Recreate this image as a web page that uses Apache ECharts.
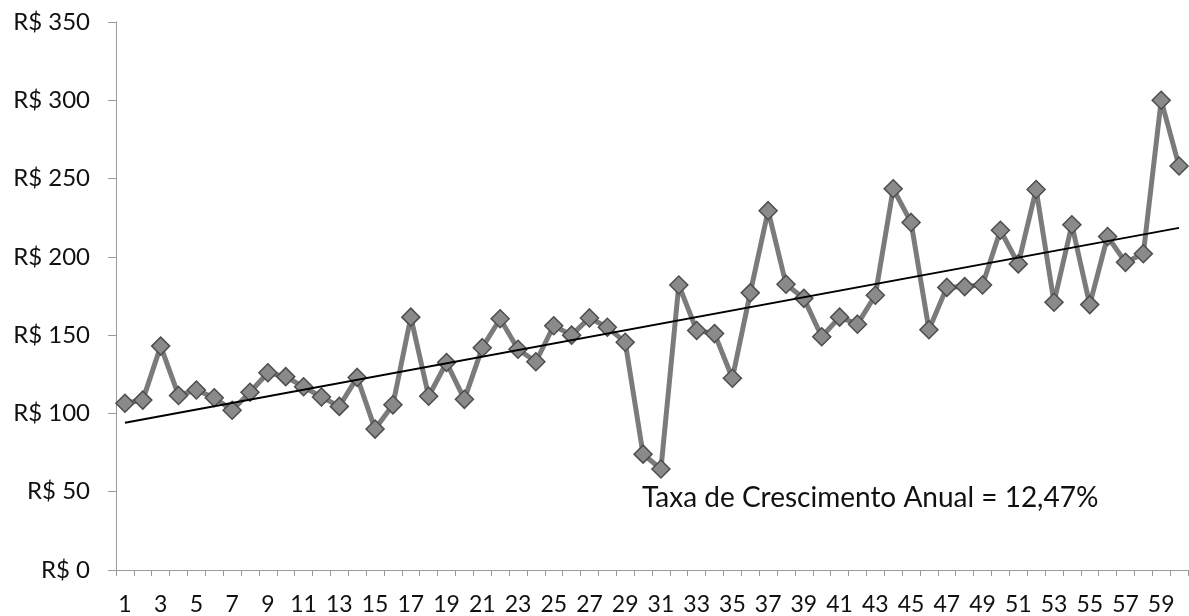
<!DOCTYPE html>
<html>
<head>
<meta charset="utf-8">
<script src="https://cdn.jsdelivr.net/npm/echarts@6/dist/echarts.min.js"></script>
<style>
  html, body { margin: 0; padding: 0; background: #fff; }
  #chart { width: 1189px; height: 616px; }
</style>
</head>
<body>
<div id="chart"></div>
<script>
// periodos 1..60
var periodos = [];
for (var i = 1; i <= 60; i++) periodos.push(String(i));

// valores (R$)
var valores = [
  106.5, 108.5, 143, 111.5, 115, 110, 102, 113.5, 126, 123.5,
  117, 110.5, 104.5, 123, 90, 105.5, 161.5, 111, 132.5, 109,
  142, 160.5, 141, 133, 156, 150, 161, 155, 145.5, 74,
  64.5, 182, 153, 151, 122.5, 177, 229.5, 182.5, 173.5, 149,
  161.5, 157, 175.5, 243.5, 222, 153.5, 180.5, 181, 182, 217,
  195.5, 243, 171, 220.5, 169.5, 213, 196.5, 202, 300, 258
];

// linha de tendência (linear): valor no primeiro e no último período
var tendencia = [['1', 94], ['60', 218.5]];

var eixoY = [0, 50, 100, 150, 200, 250, 300, 350];
var anotacao = 'Taxa de Crescimento Anual = 12,47%';

var chart = echarts.init(document.getElementById('chart'), null, { renderer: 'canvas' });

var fonte = 'Lato, "Open Sans", sans-serif';

var option = {
  backgroundColor: '#ffffff',
  animation: false,
  title: {
    text: anotacao,
    left: 642,
    top: 484,
    padding: 0,
    textStyle: { fontFamily: fonte, fontSize: 28, fontWeight: 'normal', color: '#111' }
  },
  grid: {
    left: 116,
    right: 1,
    top: 22,
    bottom: 46,
    containLabel: false
  },
  xAxis: {
    type: 'category',
    data: periodos,
    boundaryGap: true,
    axisLine: { lineStyle: { color: '#9a9a9a', width: 1 } },
    axisTick: { show: true, interval: 0, length: 6, lineStyle: { color: '#9a9a9a' } },
    axisLabel: {
      interval: 1,
      margin: 23,
      fontFamily: fonte,
      fontSize: 23,
      color: '#111'
    },
    splitLine: { show: false }
  },
  yAxis: {
    type: 'value',
    min: eixoY[0],
    max: eixoY[eixoY.length - 1],
    interval: 50,
    axisLine: { show: true, lineStyle: { color: '#9a9a9a', width: 1 } },
    axisTick: { show: true, length: 8, lineStyle: { color: '#9a9a9a' } },
    axisLabel: {
      margin: 26,
      fontFamily: fonte,
      fontSize: 24,
      color: '#111',
      formatter: function (v) { return 'R$ ' + v; }
    },
    splitLine: { show: false }
  },
  series: [{
    name: 'Valor',
    type: 'line',
    data: valores,
    symbol: 'diamond',
    symbolSize: 18,
    showAllSymbol: true,
    lineStyle: { color: '#7b7b7b', width: 5 },
    itemStyle: { color: '#8a8a8a', borderColor: '#4d4d4d', borderWidth: 1.5 },
    z: 2
  }, {
    name: 'Tendência',
    type: 'line',
    data: tendencia,
    symbol: 'none',
    lineStyle: { color: '#000', width: 2 },
    z: 3
  }]
};

chart.setOption(option);
</script>
</body>
</html>
